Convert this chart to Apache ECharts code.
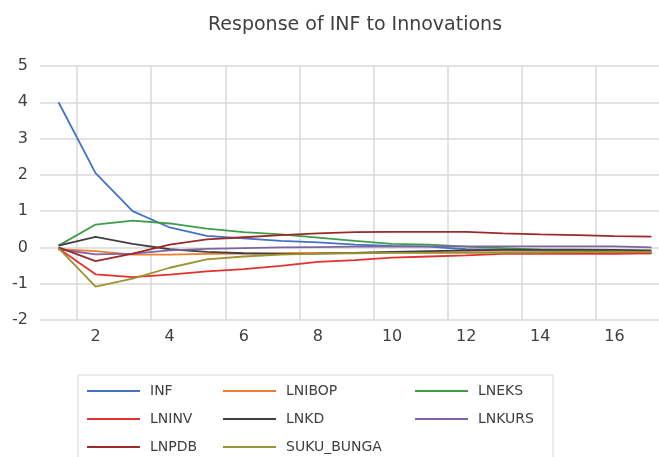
<!DOCTYPE html>
<html>
<head>
<meta charset="utf-8">
<script src="https://cdn.jsdelivr.net/npm/echarts@6/dist/echarts.min.js"></script>
<style>
  html, body { margin: 0; padding: 0; background: #fff; }
  #chart { width: 659px; height: 457px; }
</style>
</head>
<body>
<div id="chart"></div>
<script>
// periods 1..17
const periods = ['1', '2', '3', '4', '5', '6', '7', '8', '9', '10', '11', '12', '13', '14', '15', '16', '17']

const inf = [4.0, 2.05, 1.0, 0.55, 0.32, 0.25, 0.18, 0.14, 0.08, 0.04, 0.02, -0.05, -0.06, -0.08, -0.1, -0.14, -0.16]
const lnibop = [-0.05, -0.1, -0.2, -0.2, -0.18, -0.17, -0.16, -0.15, -0.15, -0.14, -0.14, -0.13, -0.13, -0.13, -0.12, -0.12, -0.12]
const lneks = [0.05, 0.63, 0.74, 0.66, 0.52, 0.42, 0.36, 0.27, 0.18, 0.1, 0.08, 0.02, -0.02, -0.06, -0.08, -0.1, -0.12]
const lninv = [-0.03, -0.74, -0.82, -0.75, -0.66, -0.6, -0.51, -0.4, -0.35, -0.28, -0.25, -0.22, -0.18, -0.18, -0.18, -0.18, -0.16]
const lnkd = [0.05, 0.29, 0.1, -0.05, -0.12, -0.16, -0.18, -0.17, -0.15, -0.12, -0.1, -0.08, -0.07, -0.06, -0.06, -0.07, -0.08]
const lnkurs = [-0.05, -0.19, -0.17, -0.08, -0.04, -0.02, 0.0, 0.01, 0.02, 0.02, 0.03, 0.03, 0.03, 0.03, 0.03, 0.03, 0.0]
const lnpdb = [0.0, -0.38, -0.17, 0.08, 0.22, 0.28, 0.34, 0.39, 0.42, 0.43, 0.43, 0.43, 0.39, 0.36, 0.34, 0.31, 0.3]
const sukuBunga = [-0.02, -1.08, -0.86, -0.56, -0.33, -0.25, -0.2, -0.17, -0.16, -0.15, -0.15, -0.15, -0.15, -0.14, -0.13, -0.12, -0.12]

const yTicks = { min: -2, max: 5, interval: 1 }

const seriesList = [
  { name: 'INF', data: inf, color: '#4472c4' },
  { name: 'LNIBOP', data: lnibop, color: '#ed7d31' },
  { name: 'LNEKS', data: lneks, color: '#3f9c4a' },
  { name: 'LNINV', data: lninv, color: '#e3312f' },
  { name: 'LNKD', data: lnkd, color: '#404040' },
  { name: 'LNKURS', data: lnkurs, color: '#8064a2' },
  { name: 'LNPDB', data: lnpdb, color: '#9c2a2a' },
  { name: 'SUKU_BUNGA', data: sukuBunga, color: '#9a9433' }
]

const font = 'DejaVu Sans'
const textColor = '#404040'

function legendCol(left, names) {
  return {
    orient: 'vertical',
    left: left,
    top: 383,
    height: 120,
    padding: 0,
    data: names,
    icon: 'rect',
    itemWidth: 53,
    itemHeight: 2,
    itemGap: 12,
    textStyle: { color: textColor, fontFamily: font, fontSize: 14, lineHeight: 16, padding: [0, 0, 0, 5] }
  }
}

const chart = echarts.init(document.getElementById('chart'))
chart.setOption({
  animation: false,
  backgroundColor: '#fff',
  title: {
    text: 'Response of INF to Innovations',
    left: 203,
    top: 11,
    textStyle: { color: textColor, fontFamily: font, fontSize: 19, fontWeight: 'normal' }
  },
  legend: [
    legendCol(87, ['INF', 'LNINV', 'LNPDB']),
    legendCol(223, ['LNIBOP', 'LNKD', 'SUKU_BUNGA']),
    legendCol(415, ['LNEKS', 'LNKURS'])
  ],
  graphic: [{
    type: 'rect',
    shape: { x: 78, y: 375, width: 475, height: 100 },
    style: { fill: 'none', stroke: '#d9d9d9', lineWidth: 1 },
    silent: true
  }],
  grid: { left: 40, right: -11, top: 66, bottom: 137, outerBoundsMode: 'none' },
  xAxis: {
    type: 'category',
    data: periods,
    boundaryGap: true,
    axisLine: { show: false },
    axisTick: { show: false },
    axisLabel: {
      interval: (i) => i % 2 === 1,
      color: textColor, fontFamily: font, fontSize: 16, margin: 9
    },
    splitLine: {
      show: true,
      interval: (i) => i % 2 === 1,
      lineStyle: { color: '#d9d9d9', width: 1.5 }
    }
  },
  yAxis: {
    type: 'value',
    min: yTicks.min,
    max: yTicks.max,
    interval: yTicks.interval,
    axisLine: { show: false },
    axisTick: { show: false },
    axisLabel: { color: textColor, fontFamily: font, fontSize: 16, margin: 12, formatter: (v) => String(v) },
    splitLine: { lineStyle: { color: '#d9d9d9', width: 1.5 } }
  },
  series: seriesList.map(s => ({
    name: s.name,
    type: 'line',
    data: s.data,
    symbol: 'none',
    color: s.color,
    lineStyle: { width: 1.8, color: s.color }
  }))
})
</script>
</body>
</html>
